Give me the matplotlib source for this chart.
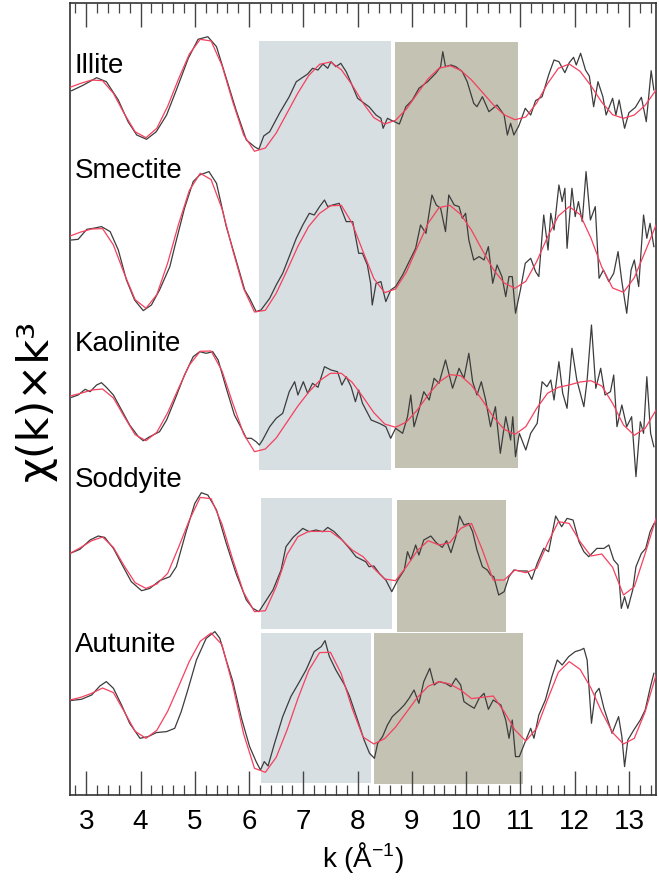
import numpy as np
import matplotlib
matplotlib.use("Agg")
import matplotlib.pyplot as plt
from matplotlib.patches import Rectangle
from matplotlib.ticker import MultipleLocator

plt.rcParams['font.family'] = ['Liberation Sans', 'DejaVu Sans']
plt.rcParams['mathtext.default'] = 'regular'

# ---------------- data ----------------
names = ["Illite", "Smectite", "Kaolinite", "Soddyite", "Autunite"]
offsets = [699.7, 551.4, 389.7, 238.0, 91.4]
label_y = [722, 617, 444, 307.7, 143]

k_fit = np.round(np.linspace(2.7, 13.5, 55), 2)

illite_fit = [7.7, 11.7, 15, 14.3, 1.7, -18.7, -36.7, -42.7, -33.3, -11.3, 16, 41, 55.7, 54, 29.7,
              -7, -40, -56.3, -53, -38, -18, 2, 19.5, 30.7, 33, 25.3, 10, -8, -22.7, -29,
              -25.3, -14, 1.3, 16.3, 26.7, 29.3, 24.7, 15, 2.7, -9.7, -19.7, -24.7, -22, -8, 11.3,
              26.7, 31, 23.7, 9.3, -7.3, -19.7, -23.3, -20, -10.3, 5]
smectite_fit = [7.3, 11.3, 14.3, 14.7, -1.7, -30.3, -56.3, -65, -51.3, -19.7, 19, 53, 70, 63.7, 34.7,
                -7, -45.3, -68.7, -67, -50, -27, -3, 17, 30, 37.5, 38, 20, -8.3, -35.3, -49.3,
                -45.7, -28.7, -4, 20, 35.7, 38, 29, 13, -7, -26, -39.7, -45, -38, -18.3, 6.3,
                27.3, 36.7, 28.7, 5.3, -23.7, -44.7, -49, -34.3, -8.3, 18.3]
kaolinite_fit = [9, 11.7, 15, 16, 7, -11.7, -29.7, -35.7, -27.3, -7.7, 16.7, 40, 53.7, 54, 34.3,
                 1.7, -29, -46.7, -44, -33, -17, -1, 13, 24.3, 31.7, 31.7, 22.7, 8, -7.7, -19,
                 -22.3, -17, -5, 10, 23, 30.3, 29.3, 19.7, 4.7, -11.7, -24.3, -29.3, -21.7, -3.3, 11.7,
                 17.7, 20, 23, 24.3, 19, 1.7, -20, -30.3, -23.3, -5]
soddyite_fit = [3.3, 9.3, 16, 19.7, 9.3, -9.3, -26, -31.7, -27.3, -16.7, 9.3, 36.7, 59.3, 58, 32.7,
                -3, -35.7, -55, -54, -30, 2.3, 20, 25.3, 25.3, 25.3, 17.3, 6.7, 0, -11.7, -22.3,
                -24, -10, 6, 16, 11.7, 14, 28.3, 33.3, 6.7, -23.3, -23.3, -13.3, -16, -11.7, 13.3,
                35, 33.3, 15, 0.7, 2.7, -10.7, -38.3, -30, 3.3, 38.3]
autunite_fit = [3.3, 6, 10, 15.3, 10.7, -8.3, -28, -35, -27, -8, 16.7, 42, 62, 70.3, 58.7,
                17.7, -30.7, -65, -69, -54, -26.7, 4.7, 33, 50.7, 51, 29.3, -5.3, -33.7, -40.7, -35.3,
                -23.7, -9, 5.7, 17, 21.7, 19.3, 13.3, 4.7, 6, 7.3, -8.3, -26.7, -37.7, -25, 3.7,
                31, 41.7, 34, 15.3, -8.7, -29.3, -40.7, -35, -8.3, 28.3]

illite_k = [2.73, 2.95, 3.19, 3.37, 3.59, 3.77, 3.93, 4.11, 4.29, 4.48, 4.66, 4.88, 5.06, 5.24, 5.40,
            5.58, 5.76, 5.95, 6.10, 6.18, 6.27, 6.38, 6.56, 6.74, 6.87, 6.99, 7.08, 7.17, 7.27, 7.36,
            7.45, 7.51, 7.60, 7.69, 7.79, 7.91, 8.00, 8.21, 8.34, 8.43, 8.47, 8.55, 8.61, 8.77, 8.89,
            9.01, 9.13, 9.29, 9.44, 9.53, 9.57, 9.62, 9.72, 9.81, 9.93, 10.02, 10.14, 10.20, 10.30, 10.42,
            10.57, 10.70, 10.76, 10.82, 10.88, 10.97, 11.09, 11.19, 11.28, 11.40, 11.52, 11.62, 11.71, 11.82, 11.90,
            11.98, 12.03, 12.11, 12.20, 12.27, 12.35, 12.43, 12.52, 12.58, 12.70, 12.76, 12.82, 12.92, 13.00, 13.12,
            13.23, 13.32, 13.41, 13.46]
illite_v = [4.3, 10, 17.3, 13.3, -5, -26.7, -40, -44.3, -36.7, -20, 5, 36.7, 55.7, 58.3, 48.3,
            16.7, -15, -45, -51.7, -54.3, -41, -36.7, -18.3, -1.7, 13.3, 17.7, 21, 26.7, 25, 31,
            26.7, 33.3, 28.3, 31.7, 23.3, 8.3, -3.3, -11.7, -20, -23.3, -33.3, -23.3, -25, -29, -11.7,
            -5, 6.7, 13.3, 21.7, 28.3, 43.3, 28.3, 30, 28.3, 23.3, 13.3, -8.3, -11.7, -1.7, -16.7,
            -10, -20, -40, -28.3, -40, -31, -13.3, -20, -5.7, -1.7, 20, 35, 33.3, 22.3, 32.3,
            37.7, 30, 41.7, 25, 19, -11.7, 13.3, -1.7, -20, -3.3, -20, -5, -33.3, -17.7, -12.3,
            -2.3, -26.7, 24.3, 5]

smectite_k = [2.73, 2.85, 3.01, 3.13, 3.28, 3.44, 3.59, 3.74, 3.89, 4.05, 4.20, 4.35, 4.54, 4.63, 4.81,
              4.97, 5.09, 5.26, 5.40, 5.58, 5.76, 5.92, 6.01, 6.13, 6.22, 6.38, 6.50, 6.62, 6.74, 6.87,
              6.99, 7.11, 7.20, 7.30, 7.39, 7.45, 7.54, 7.66, 7.79, 7.91, 8.02, 8.09, 8.18, 8.24, 8.27,
              8.34, 8.43, 8.52, 8.61, 8.70, 8.83, 8.95, 9.07, 9.16, 9.26, 9.37, 9.45, 9.53, 9.62, 9.68,
              9.78, 9.87, 9.93, 9.99, 10.05, 10.14, 10.24, 10.33, 10.41, 10.49, 10.57, 10.66, 10.73, 10.79, 10.85,
              10.91, 11.00, 11.09, 11.19, 11.28, 11.34, 11.43, 11.51, 11.56, 11.62, 11.71, 11.77, 11.82, 11.86, 11.95,
              12.01, 12.07, 12.14, 12.21, 12.29, 12.38, 12.45, 12.53, 12.63, 12.72, 12.80, 12.87, 12.96, 13.04, 13.10,
              13.18, 13.27, 13.33, 13.39, 13.46]
smectite_v = [3.3, 4, 14, 15, 16.7, 11.7, -6.7, -36.7, -56.7, -67.3, -61.7, -46.7, -23.3, -3.3, 35,
              61.7, 68.3, 71.7, 60, 16.7, -16.7, -46.7, -55, -68.3, -66.7, -55, -41.7, -30, -13.3, 5,
              18.3, 30, 28.3, 36.7, 43.3, 36.7, 38.3, 40, 21.7, 21.7, -10, -10, -21.7, -40, -61.7,
              -40, -38.3, -58.3, -46.7, -43.3, -31.7, -18.3, -5, 18.3, 10, 48.3, 38.3, 35, 11.7, 48.3,
              38.3, 36.7, 25, 30, 3.3, -16.7, -13.3, -16.7, -3.3, -40, -21.7, -33.3, -53.3, -33.3, -33.3,
              -70, -46.7, -20, -15, -28.3, -33.3, 28.3, -6.7, 30, 13.3, 58.3, 41.7, 55, -5, 55,
              26.7, 41.7, 21.7, 71.7, 23.3, 36.7, -35, -26.7, -38.3, -30, -8.3, -38.3, -70, -26.7, -16.7,
              -43.3, 28.3, 5, 20, -3.3]

kaolinite_k = [2.73, 2.85, 2.98, 3.07, 3.19, 3.28, 3.37, 3.50, 3.65, 3.80, 3.96, 4.05, 4.17, 4.35, 4.48,
               4.63, 4.81, 4.97, 5.09, 5.21, 5.33, 5.43, 5.58, 5.73, 5.86, 5.95, 6.04, 6.13, 6.19, 6.25,
               6.38, 6.50, 6.62, 6.74, 6.84, 6.90, 7.00, 7.08, 7.17, 7.27, 7.39, 7.51, 7.63, 7.71, 7.79,
               7.88, 7.96, 8.02, 8.09, 8.25, 8.40, 8.52, 8.61, 8.70, 8.83, 8.92, 8.98, 9.04, 9.13, 9.22,
               9.32, 9.41, 9.50, 9.62, 9.75, 9.87, 9.96, 10.05, 10.12, 10.20, 10.28, 10.36, 10.45, 10.54, 10.63,
               10.73, 10.82, 10.86, 10.91, 10.98, 11.10, 11.19, 11.31, 11.40, 11.49, 11.56, 11.62, 11.71, 11.78, 11.86,
               11.95, 12.04, 12.17, 12.23, 12.31, 12.39, 12.48, 12.56, 12.66, 12.72, 12.78, 12.87, 12.96, 13.05, 13.13,
               13.21, 13.27, 13.33, 13.40, 13.46]
kaolinite_v = [7.7, 10, 15.7, 13.3, 20, 22.3, 17.7, 10, -5, -20, -31.7, -35.7, -31.7, -26.7, -15,
               5, 30, 48.3, 53.3, 51.7, 53.3, 45, 16.7, -10, -23.3, -33.3, -33.3, -36.7, -40, -35,
               -21.7, -13.3, -8.3, 13.3, 23.3, 10, 23.3, 11.7, 21.7, 17.7, 38.3, 35, 33.3, 20, 28.3,
               18.3, 3.3, 15, 1.7, -15, -18.3, -21.7, -33.3, -23.3, -28.3, -11.7, 10, -21.7, -5, 13.3,
               5, 26.7, 21.7, 45, 16.7, 36.7, 26.7, 51.7, 23.3, 10, 23.3, 5, -21.7, -1.7, -48.3,
               -11.7, -35, -11.7, -51.7, -28.3, -45, -28.3, -18.3, 23.3, 18.3, 25, 5, 43.3, 11.7, -3.3,
               56.7, 25, -1.7, 25, 80, 16.7, 36.7, 10, 13.3, 30, -21.7, 0, -21.7, -11.7, -71.7,
               -16.7, -28.3, 28.3, -28.3, -41.7]

soddyite_k = [2.70, 2.88, 3.07, 3.22, 3.34, 3.50, 3.68, 3.83, 4.02, 4.17, 4.35, 4.54, 4.66, 4.84, 5.00,
              5.12, 5.24, 5.40, 5.58, 5.76, 5.95, 6.07, 6.18, 6.28, 6.44, 6.59, 6.68, 6.81, 6.99, 7.11,
              7.23, 7.36, 7.45, 7.57, 7.69, 7.85, 7.97, 8.03, 8.15, 8.21, 8.30, 8.40, 8.52, 8.63, 8.74,
              8.86, 8.92, 8.98, 9.07, 9.13, 9.22, 9.35, 9.45, 9.56, 9.64, 9.72, 9.81, 9.88, 9.96, 10.05,
              10.12, 10.20, 10.30, 10.39, 10.45, 10.51, 10.60, 10.70, 10.79, 10.88, 11.00, 11.13, 11.21, 11.31, 11.43,
              11.52, 11.65, 11.76, 11.86, 11.97, 12.08, 12.17, 12.26, 12.41, 12.54, 12.63, 12.72, 12.80, 12.86, 12.92,
              12.98, 13.07, 13.13, 13.23, 13.31, 13.39, 13.46]
soddyite_v = [3.3, 7.3, 16.7, 20.7, 19.3, 8.3, -10, -25, -34, -31.7, -24, -20, -10, 25, 53.3,
              64, 61.7, 46.7, 13.3, -16.7, -43.3, -51.7, -55, -46.7, -33.3, -13.3, 10, 19.3, 28.3, 25,
              26.7, 25, 29.3, 25, 18.3, 8.3, 0, -1.7, -5, -10, -9.3, -16.7, -23.3, -35, -23.3,
              -13.3, 5, -3.3, 11.7, 1.7, 16.7, 20.7, 14, 9.3, 16, 4, 20, 40.7, 31.7, 33.3,
              25, 6.7, -10, -13.3, -18.3, -20, -38.3, -35, -20, -13.3, -14.3, -14.3, -22.7, -6.7, 8.3,
              5, 40.7, 30, 38.3, 36.7, 15, 5, 0, 8.3, 8.3, 11.7, -3.3, -8.3, -51.7, -40,
              -51.7, -33.3, -10, 3.3, 8.3, 25, 33]

autunite_k = [2.70, 2.91, 3.10, 3.25, 3.37, 3.50, 3.65, 3.80, 3.99, 4.14, 4.29, 4.48, 4.63, 4.75, 4.88,
              5.03, 5.21, 5.37, 5.46, 5.58, 5.70, 5.86, 6.01, 6.13, 6.21, 6.28, 6.35, 6.47, 6.62, 6.77,
              6.93, 7.05, 7.20, 7.33, 7.40, 7.48, 7.60, 7.76, 7.85, 8.00, 8.12, 8.22, 8.31, 8.37, 8.46,
              8.55, 8.64, 8.77, 8.86, 8.95, 9.04, 9.13, 9.22, 9.33, 9.41, 9.50, 9.62, 9.72, 9.81, 9.90,
              9.96, 10.05, 10.15, 10.24, 10.33, 10.41, 10.50, 10.64, 10.73, 10.79, 10.85, 10.91, 10.98, 11.09, 11.19,
              11.25, 11.34, 11.46, 11.58, 11.68, 11.77, 11.89, 12.01, 12.11, 12.17, 12.23, 12.31, 12.38, 12.45, 12.54,
              12.69, 12.81, 12.87, 12.92, 12.98, 13.09, 13.21, 13.30, 13.39, 13.46]
autunite_v = [2.7, 4, 8.3, 17.3, 21.7, 15, -1.7, -20, -35, -33.3, -29.3, -28.3, -25, -8.3, 15,
              43.3, 65, 71.7, 65, 43, 22, -15, -43.3, -58.3, -66.7, -58.3, -62.7, -40, -13.3, 6.7,
              21.7, 33.3, 51.7, 56.7, 62.7, 46.7, 33.3, 18.3, 7.3, -16.7, -36.7, -50, -55, -40, -33.3,
              -21.7, -13.3, -6.7, -1.7, 5, 13.3, 0, 21.7, 35, 18.3, 21.7, 20, 16.7, 25, 18.3,
              1.7, -1.7, -5, 5, 10, -6, 3.3, -1.7, -16.7, -35, -16.7, -53.3, -53.3, -38.3, -25,
              -35, -11.7, 3.3, 26.7, 43.3, 38.3, 46.7, 51.7, 53.3, 55, 43.3, -20, 10, 15, -5,
              -30, -13.3, -33.3, -63.3, -36.7, -26.7, -16.7, -6.7, 15, 30]

fits = [illite_fit, smectite_fit, kaolinite_fit, soddyite_fit, autunite_fit]
data_k = [illite_k, smectite_k, kaolinite_k, soddyite_k, autunite_k]
data_v = [illite_v, smectite_v, kaolinite_v, soddyite_v, autunite_v]

# shaded k-windows: (k_start, k_end, y_bottom, y_top)
blue_windows = [(6.175, 8.62, 324.7, 753.7), (6.22, 8.64, 165.7, 296.7), (6.22, 8.25, 11.7, 161.7)]
tan_windows = [(8.69, 10.95, 326.7, 752.7), (8.73, 10.74, 162.7, 294.7), (8.31, 11.05, 10.7, 161.7)]

blue_col = "#d7dfe2"
tan_col = "#c3c2b3"
data_col = "#3c3c3c"
fit_col = "#f5405e"

# ---------------- figure ----------------
fig = plt.figure(figsize=(6.59, 8.82), dpi=100)
ax = fig.add_axes([70 / 659, (882 - 794.7) / 882, (655.5 - 70) / 659, 792 / 882])

for (k0, k1, y0, y1) in blue_windows:
    ax.add_patch(Rectangle((k0, y0), k1 - k0, y1 - y0, facecolor=blue_col, edgecolor='none', zorder=0))
for (k0, k1, y0, y1) in tan_windows:
    ax.add_patch(Rectangle((k0, y0), k1 - k0, y1 - y0, facecolor=tan_col, edgecolor='none', zorder=0))

for name, off, ly, fv, kd, vd in zip(names, offsets, label_y, fits, data_k, data_v):
    ax.plot(kd, np.array(vd) + off, color=data_col, lw=0.9, zorder=2)
    ax.plot(k_fit, np.array(fv) + off, color=fit_col, lw=0.9, zorder=3)
    ax.text(2.79, ly, name, fontsize=20, ha='left', va='baseline', color='black', zorder=4)

ax.set_xlim(2.7, 13.49)
ax.set_ylim(0, 792)
ax.set_yticks([])
ax.xaxis.set_major_locator(MultipleLocator(1))
ax.xaxis.set_minor_locator(MultipleLocator(0.2))
ax.tick_params(axis='x', which='both', direction='in', top=True, bottom=True, color='#444444')
ax.tick_params(axis='x', which='major', length=17, width=1.0, labelsize=20, pad=10)
ax.tick_params(axis='x', which='minor', length=7, width=0.9)
for s in ax.spines.values():
    s.set_color('#333333')
    s.set_linewidth(1.2)

ax.set_xlabel('k (Å$^{-1}$)', fontsize=20, labelpad=4)
fig.text(36 / 659, 1 - 400 / 882, 'χ(k)×k³', rotation=90, fontsize=31,
         family=['DejaVu Sans'], ha='center', va='center')

fig.savefig('out.png', dpi=100)
